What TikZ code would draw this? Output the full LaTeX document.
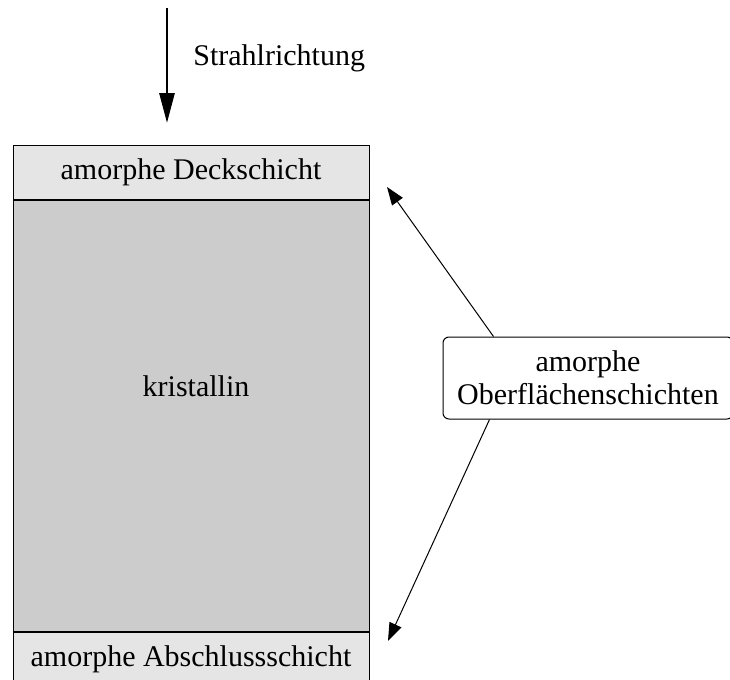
\documentclass[tikz,border=0pt]{standalone}
\usepackage{fontspec}
\setmainfont{Liberation Serif}
\usetikzlibrary{positioning, arrows.meta, calc}

\begin{document}
\begin{tikzpicture}[
  x=0.5pt, y=-0.5pt,
  every node/.style={font=\fontsize{15}{16.5}\selectfont},
  schicht/.style={draw, line width=0.5pt, minimum width=178pt, inner sep=0pt},
  hinweis/.style={draw, line width=0.5pt, rounded corners=3pt, minimum width=145pt, minimum height=41pt, align=center, inner sep=2pt},
  pfeil/.style={-{Stealth[length=9pt, width=6.5pt, inset=0pt]}, line width=0.5pt}
]
\useasboundingbox (0,0) rectangle (730,680);
\clip (0,0) rectangle (730,680);

% Schichtfolge der Probe
\node[schicht, fill=black!10, minimum height=27pt] (deck) at (191,172) {amorphe Deckschicht};
\node[schicht, fill=black!20, minimum height=215.5pt, below=0pt of deck] (kristall) {};
\node[schicht, fill=black!10, minimum height=27pt, below=0pt of kristall] (abschluss) {amorphe Abschlussschicht};
\node[anchor=base] (kristlabel) at (196,396) {kristallin};

% Strahlrichtung
\coordinate (strahlstart) at (167,8);
\coordinate (strahlende) at (167,123);
\draw[-{Stealth[length=15pt, width=7.5pt, inset=0pt]}, line width=1.4pt] (strahlstart) -- (strahlende);
\node[anchor=base west, inner sep=0pt] (strahl) at (193,65) {Strahlrichtung};

% Oberflaechenschichten
\node[hinweis] (obf) at (588,378) {amorphe\\Oberflächenschichten};
\coordinate (obenziel) at (387,187);
\coordinate (untenziel) at (388,641);
\draw[pfeil] ($(obf.north west)+(51,0)$) -- (obenziel);
\draw[pfeil] ($(obf.south west)+(47,0)$) -- (untenziel);

\end{tikzpicture}
\end{document}
